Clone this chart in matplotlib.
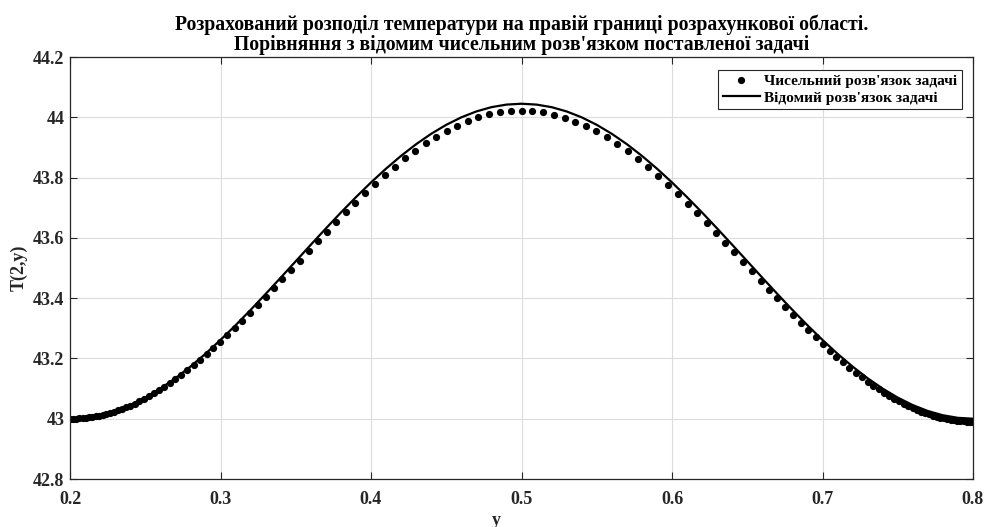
import matplotlib
matplotlib.use('Agg')
import matplotlib.pyplot as plt

# numerical solution (nonuniform mesh, denser near the ends)
y_num = [0.2000, 0.2021, 0.2042, 0.2063, 0.2084, 0.2105, 0.2127, 0.2149, 0.2171, 0.2194,
         0.2217, 0.2241, 0.2266, 0.2291, 0.2317, 0.2344, 0.2372, 0.2400, 0.2429, 0.2460,
         0.2491, 0.2523, 0.2556, 0.2591, 0.2626, 0.2663, 0.2700, 0.2739, 0.2779, 0.2821,
         0.2863, 0.2907, 0.2952, 0.2998, 0.3045, 0.3094, 0.3144, 0.3195, 0.3247, 0.3300,
         0.3355, 0.3411, 0.3468, 0.3526, 0.3585, 0.3645, 0.3706, 0.3768, 0.3831, 0.3895,
         0.3959, 0.4025, 0.4091, 0.4158, 0.4226, 0.4294, 0.4363, 0.4433, 0.4503, 0.4573,
         0.4644, 0.4714, 0.4786, 0.4857, 0.4928, 0.5000,
         0.5072, 0.5143, 0.5214, 0.5286, 0.5356, 0.5427, 0.5497, 0.5567, 0.5637, 0.5706,
         0.5774, 0.5842, 0.5909, 0.5975, 0.6041, 0.6105, 0.6169, 0.6232, 0.6294, 0.6355,
         0.6415, 0.6474, 0.6532, 0.6589, 0.6645, 0.6700, 0.6753, 0.6805, 0.6856, 0.6906,
         0.6955, 0.7002, 0.7048, 0.7093, 0.7137, 0.7179, 0.7221, 0.7261, 0.7300, 0.7337,
         0.7374, 0.7409, 0.7444, 0.7477, 0.7509, 0.7540, 0.7571, 0.7600, 0.7628, 0.7656,
         0.7683, 0.7709, 0.7734, 0.7759, 0.7783, 0.7806, 0.7829, 0.7851, 0.7873, 0.7895,
         0.7916, 0.7937, 0.7958, 0.7979, 0.8000]
T_num = [43.0000, 43.0001, 43.0004, 43.0010, 43.0018, 43.0029, 43.0043, 43.0060, 43.0079, 43.0102,
         43.0129, 43.0159, 43.0194, 43.0232, 43.0276, 43.0324, 43.0378, 43.0437, 43.0503, 43.0576,
         43.0655, 43.0743, 43.0838, 43.0942, 43.1055, 43.1177, 43.1309, 43.1452, 43.1605, 43.1769,
         43.1945, 43.2132, 43.2331, 43.2542, 43.2764, 43.2999, 43.3245, 43.3502, 43.3770, 43.4048,
         43.4336, 43.4632, 43.4937, 43.5247, 43.5563, 43.5883, 43.6204, 43.6527, 43.6848, 43.7166,
         43.7479, 43.7784, 43.8080, 43.8365, 43.8637, 43.8893, 43.9131, 43.9350, 43.9547, 43.9722,
         43.9872, 43.9997, 44.0095, 44.0165, 44.0207, 44.0220,
         44.0205, 44.0160, 44.0088, 43.9987, 43.9860, 43.9708, 43.9531, 43.9331, 43.9110, 43.8869,
         43.8611, 43.8337, 43.8050, 43.7752, 43.7444, 43.7129, 43.6809, 43.6486, 43.6161, 43.5837,
         43.5516, 43.5198, 43.4886, 43.4580, 43.4281, 43.3992, 43.3712, 43.3442, 43.3183, 43.2935,
         43.2699, 43.2475, 43.2263, 43.2062, 43.1873, 43.1696, 43.1531, 43.1376, 43.1232, 43.1099,
         43.0975, 43.0861, 43.0756, 43.0660, 43.0572, 43.0491, 43.0417, 43.0351, 43.0290, 43.0235,
         43.0186, 43.0142, 43.0102, 43.0067, 43.0036, 43.0009, 42.9985, 42.9965, 42.9947, 42.9933,
         42.9921, 42.9912, 42.9906, 42.9902, 42.9900]

# known solution
y_exact = [0.20, 0.21, 0.22, 0.23, 0.24, 0.25, 0.26, 0.27, 0.28, 0.29,
           0.30, 0.31, 0.32, 0.33, 0.34, 0.35, 0.36, 0.37, 0.38, 0.39,
           0.40, 0.41, 0.42, 0.43, 0.44, 0.45, 0.46, 0.47, 0.48, 0.49,
           0.50, 0.51, 0.52, 0.53, 0.54, 0.55, 0.56, 0.57, 0.58, 0.59,
           0.60, 0.61, 0.62, 0.63, 0.64, 0.65, 0.66, 0.67, 0.68, 0.69,
           0.70, 0.71, 0.72, 0.73, 0.74, 0.75, 0.76, 0.77, 0.78, 0.79, 0.80]
T_exact = [43.0000, 43.0029, 43.0114, 43.0256, 43.0452, 43.0700, 43.0998, 43.1342, 43.1729, 43.2154,
           43.2613, 43.3100, 43.3610, 43.4139, 43.4679, 43.5225, 43.5771, 43.6311, 43.6840, 43.7350,
           43.7838, 43.8296, 43.8721, 43.9108, 43.9452, 43.9750, 43.9998, 44.0194, 44.0336, 44.0421,
           44.0450, 44.0421, 44.0336, 44.0194, 43.9998, 43.9750, 43.9452, 43.9108, 43.8721, 43.8296,
           43.7838, 43.7350, 43.6840, 43.6311, 43.5771, 43.5225, 43.4679, 43.4139, 43.3610, 43.3100,
           43.2613, 43.2154, 43.1729, 43.1342, 43.0998, 43.0700, 43.0452, 43.0256, 43.0114, 43.0029, 43.0000]

xticks = [0.2, 0.3, 0.4, 0.5, 0.6, 0.7, 0.8]
xticklabels = ['0.2', '0.3', '0.4', '0.5', '0.6', '0.7', '0.8']
yticks = [42.8, 43.0, 43.2, 43.4, 43.6, 43.8, 44.0, 44.2]
yticklabels = ['42.8', '43', '43.2', '43.4', '43.6', '43.8', '44', '44.2']

title = ('Розрахований розподіл температури на правій границі розрахункової області.\n'
         'Порівняння з відомим чисельним розв\'язком поставленої задачі')

plt.rcParams['font.family'] = ['Liberation Serif', 'DejaVu Serif']
plt.rcParams['font.weight'] = 'bold'

fig = plt.figure(figsize=(9.88, 5.27), dpi=100)
ax = fig.add_axes([70 / 988, 1 - 479 / 527, 903 / 988, 422 / 527])

ax.plot(y_num, T_num, 'o', color='black', markersize=5.2, markeredgewidth=0,
        label='Чисельний розв\'язок задачі')
ax.plot(y_exact, T_exact, '-', color='black', linewidth=1.6,
        label='Відомий розв\'язок задачі')

ax.set_xlim(0.2, 0.8)
ax.set_ylim(42.8, 44.2)
ax.set_xticks(xticks)
ax.set_xticklabels(xticklabels)
ax.set_yticks(yticks)
ax.set_yticklabels(yticklabels)
ax.grid(True, color='#dcdcdc', linewidth=0.8)
ax.set_axisbelow(True)
ax.tick_params(direction='in', top=True, right=True, length=5, width=0.8,
               labelsize=13, colors='#262626')
ax.tick_params(axis='x', pad=9)
ax.tick_params(axis='y', pad=4)
for s in ax.spines.values():
    s.set_color('#262626')
    s.set_linewidth(0.9)

ax.set_title(title, fontsize=14.2, fontweight='bold', pad=5, linespacing=1.0)
ax.set_xlabel('y', fontsize=13, fontweight='bold', color='#262626')
ax.xaxis.set_label_coords(0.472, -0.078)
ax.set_ylabel('T(2,y)', fontsize=13, fontweight='bold', color='#262626')
ax.yaxis.set_label_coords(-0.047, 0.5)

leg = ax.legend(loc='upper right', bbox_to_anchor=(962 / 988, 1 - 70 / 527),
                bbox_transform=fig.transFigure, fancybox=False, framealpha=1,
                edgecolor='#262626', fontsize=11.1, borderpad=0.3,
                handlelength=2.4, handletextpad=0.3, labelspacing=0.15,
                borderaxespad=0)
leg.get_frame().set_linewidth(0.8)

fig.savefig('out.png', dpi=100)
